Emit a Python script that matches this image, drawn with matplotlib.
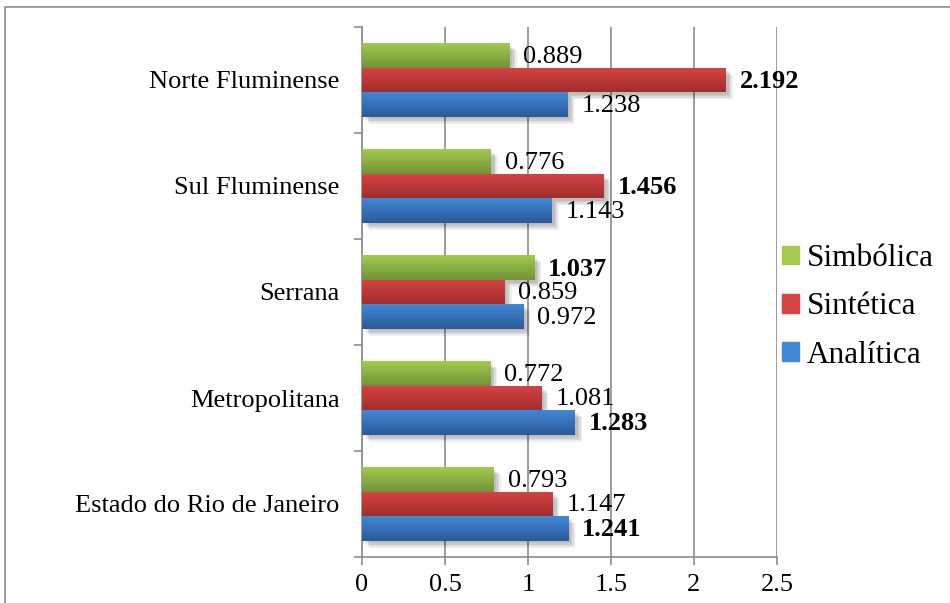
import numpy as np
import matplotlib.pyplot as plt
from matplotlib.patches import Rectangle
from matplotlib import patheffects as pe

plt.rcParams['font.family'] = ['Liberation Serif', 'DejaVu Serif']

regioes = ['Estado do Rio de Janeiro', 'Metropolitana', 'Serrana',
           'Sul Fluminense', 'Norte Fluminense']
series = ['Analítica', 'Sintética', 'Simbólica']
analitica = [1.241, 1.283, 0.972, 1.143, 1.238]
sintetica = [1.147, 1.081, 0.859, 1.456, 2.192]
simbolica = [0.793, 0.772, 1.037, 0.776, 0.889]
x_ticks = [0, 0.5, 1, 1.5, 2, 2.5]

# cores do degrade (topo, base) de cada serie
cores = {
    'Analítica': ('#4188d6', '#2b5a98'),
    'Sintética': ('#d64444', '#a32c2c'),
    'Simbólica': ('#a2cb4e', '#739238'),
}

fig = plt.figure(figsize=(9.5, 6.03), dpi=100)
ax = fig.add_axes([362 / 950, 1 - 557 / 603, 415 / 950, 530 / 603])

h = 0.23
y = np.arange(len(regioes))
valores = [analitica, sintetica, simbolica]
offsets = [-h, 0, h]

sombra = [pe.SimplePatchShadow(offset=(s, -s), shadow_rgbFace='k', alpha=0.07)
          for s in (5, 4, 3, 2)] + [pe.Normal()]

for nome, vals, off in zip(series, valores, offsets):
    topo, base = cores[nome]
    bars = ax.barh(y + off, vals, height=h, color=base, zorder=3,
                   path_effects=sombra)
    c1 = np.array(plt.matplotlib.colors.to_rgb(topo))
    c2 = np.array(plt.matplotlib.colors.to_rgb(base))
    grad = np.linspace(c1, c2, 40)[:, None, :]
    for bar, v, yy in zip(bars, vals, y + off):
        im = ax.imshow(grad, extent=(0, v, yy - h / 2, yy + h / 2),
                       aspect='auto', zorder=4, interpolation='bilinear')
        im.set_clip_path(bar)

# rotulos de valor, o maior de cada regiao em negrito
for i in range(len(regioes)):
    grupo = [analitica[i], sintetica[i], simbolica[i]]
    vmax = max(grupo)
    for v, off in zip(grupo, offsets):
        ax.annotate(f'{v:.3f}', (v, i + off), xytext=(10, -1),
                    textcoords='offset points', va='center', ha='left',
                    fontsize=19, fontweight='bold' if v == vmax else 'normal',
                    zorder=6)

ax.set_xlim(0, 2.5)
ax.set_ylim(-0.5, len(regioes) - 0.5)
ax.set_xticks(x_ticks)
ax.set_xticklabels([f'{t:g}' for t in x_ticks])
ax.set_yticks(y)
ax.set_yticklabels(regioes)
ax.set_yticks(np.arange(-0.5, len(regioes)), minor=True)

ax.grid(axis='x', color='#8c8c8c', linewidth=1.2, zorder=0)
for s in ['top', 'right']:
    ax.spines[s].set_visible(False)
for s in ['left', 'bottom']:
    ax.spines[s].set_color('#8c8c8c')
    ax.spines[s].set_linewidth(1.2)

ax.tick_params(axis='y', which='major', length=0, pad=16, labelsize=19)
ax.tick_params(axis='y', which='minor', length=6, width=1.2, color='#8c8c8c')
ax.tick_params(axis='x', length=6, width=1.2, color='#8c8c8c', pad=6,
               labelsize=19)

handles = [Rectangle((0, 0), 1, 1, color=cores[n][0]) for n in series[::-1]]
fig.legend(handles, series[::-1], loc='center left',
           bbox_to_anchor=(782 / 950, 1 - 307 / 603), frameon=False,
           fontsize=22.5, handlelength=0.55, handleheight=0.55,
           handletextpad=0.25, labelspacing=0.62, borderpad=0,
           borderaxespad=0)

# moldura da area do grafico
fig.add_artist(Rectangle((5 / 950, -0.1), 1.2, 1.1 - 7 / 603,
                         transform=fig.transFigure, fill=False,
                         edgecolor='#8c8c8c', linewidth=1.2))

fig.savefig('out.png', dpi=100)
